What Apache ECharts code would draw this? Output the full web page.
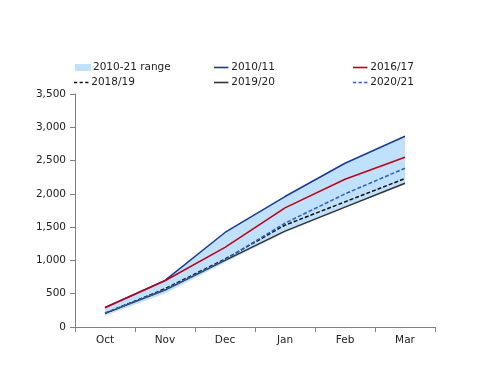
<!DOCTYPE html>
<html><head><meta charset="utf-8">
<script src="https://cdn.jsdelivr.net/npm/echarts@6/dist/echarts.min.js"></script>
<style>html,body{margin:0;padding:0;background:#fff}#c{width:500px;height:386px}</style>
</head><body><div id="c"></div>
<script>
const categories = ['Oct','Nov','Dec','Jan','Feb','Mar'];
const rangeLow  = [170, 505, 970, 1420, 1790, 2140];
const rangeHigh = [295, 700, 1420, 1960, 2460, 2865];
const s201011 = [295, 700, 1420, 1960, 2460, 2865];
const s201617 = [290, 695, 1195, 1790, 2220, 2550];
const s201819 = [205, 575, 1020, 1530, 1880, 2230];
const s201920 = [205, 555, 1000, 1440, 1800, 2160];
const s202021 = [210, 560, 1010, 1560, 2000, 2385];
const yTicks = {min: 0, max: 3500, interval: 500};

const font = 'DejaVu Sans';
const txt = {fontFamily: font, fontSize: 10.5, color: '#222'};
const diff = rangeHigh.map((v,i)=>v-rangeLow[i]);
const SOLID = 'path://M0,0H18V2H0Z';
const DASH = 'path://M0,0H4V2H0Z M7,0H11V2H7Z M14,0H18V2H14Z';
function leg(name, left, top, icon){
  const isRect = icon === 'rect';
  return {data:[{name, icon}], left: isRect ? left + 1 : left, top, orient:'horizontal',
          itemWidth: isRect ? 16 : 18, itemHeight: isRect ? 7 : 1.6, itemGap:0,
          textStyle: Object.assign({}, txt, {padding:[0,0,0, isRect ? -3 : -4]}), padding:0, selectedMode:false};
}
const chart = echarts.init(document.getElementById('c'), null, {renderer:'canvas'});
chart.setOption({
  animation:false,
  backgroundColor:'#fff',
  legend:[
    leg('2010-21 range', 74, 62, 'rect'),
    leg('2010/11', 214, 62, SOLID),
    leg('2016/17', 353, 62, SOLID),
    leg('2018/19', 74, 77, DASH),
    leg('2019/20', 214, 77, SOLID),
    leg('2020/21', 353, 77, DASH)
  ],
  grid:{left:75, top:94, width:360, height:233, containLabel:false},
  xAxis:{type:'category', data:categories, boundaryGap:true,
    axisLine:{lineStyle:{color:'#7f7f7f', width:1}},
    axisTick:{show:true, length:5, lineStyle:{color:'#7f7f7f'}},
    axisLabel:Object.assign({}, txt, {margin:8})},
  yAxis:{type:'value', min:yTicks.min, max:yTicks.max, interval:yTicks.interval,
    axisLine:{show:true, lineStyle:{color:'#7f7f7f', width:1}},
    axisTick:{show:true, length:5, lineStyle:{color:'#7f7f7f'}},
    splitLine:{show:false},
    axisLabel:Object.assign({}, txt, {margin:9, formatter:v=>v.toLocaleString('en-US')})},
  series:[
    {name:'_low', type:'line', stack:'r', data:rangeLow, symbol:'none', lineStyle:{opacity:0}, silent:true},
    {name:'2010-21 range', type:'line', stack:'r', data:diff, symbol:'none', lineStyle:{opacity:0, width:0},
     itemStyle:{color:'#bfe1fb'}, areaStyle:{color:'#bfe1fb', opacity:1}},
    {name:'2010/11', type:'line', data:s201011, symbol:'none', lineStyle:{color:'#1a3a94', width:1.5}, itemStyle:{color:'#1a3a94'}},
    {name:'2016/17', type:'line', data:s201617, symbol:'none', lineStyle:{color:'#c00018', width:1.5}, itemStyle:{color:'#c00018'}},
    {name:'2018/19', type:'line', data:s201819, symbol:'none', lineStyle:{color:'#111', width:1.5, type:[4,2]}, itemStyle:{color:'#111'}},
    {name:'2019/20', type:'line', data:s201920, symbol:'none', lineStyle:{color:'#333', width:1.5}, itemStyle:{color:'#333'}},
    {name:'2020/21', type:'line', data:s202021, symbol:'none', lineStyle:{color:'#2f5fb8', width:1.5, type:[4,2]}, itemStyle:{color:'#2f5fb8'}}
  ]
});
</script></body></html>
